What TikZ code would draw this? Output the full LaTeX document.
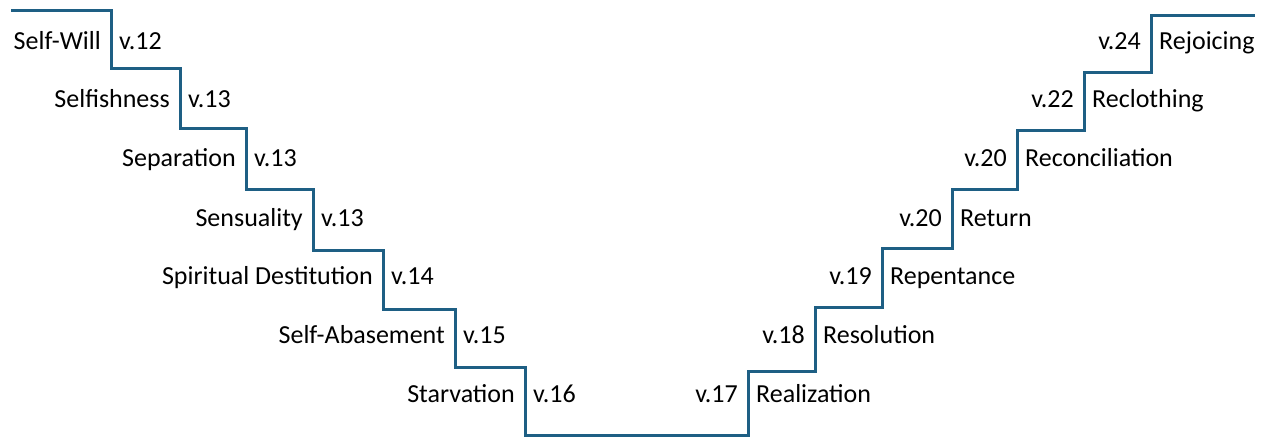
\documentclass[tikz,border=0pt]{standalone}
\usepackage{fontspec}
\setmainfont{Carlito}
\definecolor{stair}{RGB}{30,95,132}
\begin{document}
\begin{tikzpicture}[x=1pt,y=-1pt,
  stairline/.style={draw=stair,line width=3pt,line join=miter},
  lbl/.style={inner sep=0pt,font=\fontsize{26}{30}\selectfont,text=black},
  ll/.style={lbl,anchor=base east},
  rl/.style={lbl,anchor=base west}]
\useasboundingbox (0,0) rectangle (1269,437);
% staircase
\coordinate (s0) at (11,10);
\coordinate (s1) at (111,68);
\coordinate (s2) at (180,128);
\coordinate (s3) at (246,189);
\coordinate (s4) at (313,250);
\coordinate (s5) at (383,309);
\coordinate (s6) at (455,367);
\coordinate (s7) at (525,435);
\coordinate (r7) at (748,371);
\coordinate (r6) at (815,307);
\coordinate (r5) at (882,248);
\coordinate (r4) at (952,189);
\coordinate (r3) at (1017,130);
\coordinate (r2) at (1084,72);
\coordinate (r1) at (1151,15);
\coordinate (r0) at (1255,15);
\draw[stairline] (s0) -| (s1) -| (s2) -| (s3) -| (s4) -| (s5) -| (s6) -| (s7)
  -| (r7) -| (r6) -| (r5) -| (r4) -| (r3) -| (r2) -| (r1) -- (r0);
% left labels
\node[ll] (n1) at (101,49) {Self-Will};
\node[rl] (v1) at (119,49) {v.12};
\node[ll] (n2) at (170,107) {Selfishness};
\node[rl] (v2) at (188,107) {v.13};
\node[ll] (n3) at (236,166) {Separation};
\node[rl] (v3) at (254,166) {v.13};
\node[ll] (n4) at (303,226) {Sensuality};
\node[rl] (v4) at (321,226) {v.13};
\node[ll] (n5) at (373,284) {Spiritual Destitution};
\node[rl] (v5) at (391,284) {v.14};
\node[ll] (n6) at (445,343) {Self-Abasement};
\node[rl] (v6) at (463,343) {v.15};
\node[ll] (n7) at (515,402) {Starvation};
\node[rl] (v7) at (533,402) {v.16};
% right labels
\node[ll] (w7) at (738,402) {v.17};
\node[rl] (m7) at (756,402) {Realization};
\node[ll] (w6) at (805,343) {v.18};
\node[rl] (m6) at (823,343) {Resolution};
\node[ll] (w5) at (872,284) {v.19};
\node[rl] (m5) at (890,284) {Repentance};
\node[ll] (w4) at (942,226) {v.20};
\node[rl] (m4) at (960,226) {Return};
\node[ll] (w3) at (1007,166) {v.20};
\node[rl] (m3) at (1025,166) {Reconciliation};
\node[ll] (w2) at (1074,107) {v.22};
\node[rl] (m2) at (1092,107) {Reclothing};
\node[ll] (w1) at (1141,49) {v.24};
\node[rl] (m1) at (1159,49) {Rejoicing};
\end{tikzpicture}
\end{document}
